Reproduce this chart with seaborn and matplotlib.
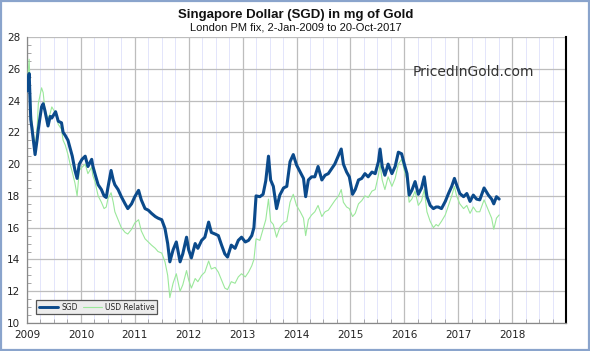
import matplotlib
matplotlib.use("Agg")
import matplotlib.pyplot as plt
import matplotlib.patches as mpatches
from matplotlib.lines import Line2D
from matplotlib.ticker import MultipleLocator
import numpy as np
import pandas as pd
import seaborn as sns

# decimal years of readings
dates = [2009.00, 2009.04, 2009.07, 2009.09, 2009.15, 2009.19, 2009.21, 2009.27, 2009.30, 2009.33,
         2009.39, 2009.43, 2009.46, 2009.53, 2009.58, 2009.64, 2009.67, 2009.71, 2009.76, 2009.80,
         2009.84, 2009.89, 2009.93, 2009.97, 2010.02, 2010.08, 2010.13, 2010.20, 2010.22, 2010.26,
         2010.32, 2010.38, 2010.43, 2010.47, 2010.50, 2010.56, 2010.60, 2010.63, 2010.69, 2010.75,
         2010.82, 2010.87, 2010.94, 2011.00, 2011.07, 2011.12, 2011.19, 2011.25, 2011.31, 2011.38,
         2011.43, 2011.50, 2011.56, 2011.61, 2011.65, 2011.71, 2011.77, 2011.84, 2011.89, 2011.96,
         2012.00, 2012.05, 2012.12, 2012.17, 2012.24, 2012.30, 2012.37, 2012.42, 2012.49, 2012.55,
         2012.61, 2012.67, 2012.72, 2012.79, 2012.86, 2012.92, 2012.98, 2013.05, 2013.11, 2013.17,
         2013.21, 2013.25, 2013.32, 2013.38, 2013.43, 2013.48, 2013.52, 2013.57, 2013.63, 2013.69,
         2013.76, 2013.82, 2013.88, 2013.94, 2014.00, 2014.07, 2014.13, 2014.17, 2014.22, 2014.28,
         2014.34, 2014.40, 2014.47, 2014.53, 2014.59, 2014.65, 2014.71, 2014.78, 2014.83, 2014.87,
         2014.93, 2014.98, 2015.04, 2015.09, 2015.15, 2015.21, 2015.27, 2015.33, 2015.40, 2015.46,
         2015.52, 2015.55, 2015.59, 2015.64, 2015.70, 2015.77, 2015.83, 2015.89, 2015.95, 2016.00,
         2016.05, 2016.09, 2016.14, 2016.20, 2016.26, 2016.32, 2016.37, 2016.42, 2016.48, 2016.54,
         2016.59, 2016.63, 2016.69, 2016.76, 2016.82, 2016.88, 2016.93, 2016.97, 2017.03, 2017.10,
         2017.16, 2017.22, 2017.28, 2017.34, 2017.40, 2017.48, 2017.56, 2017.62, 2017.66, 2017.71,
         2017.76]

sgd = [24.6, 25.7, 22.8, 22.3, 20.6, 21.6, 22.2, 23.6, 23.8, 23.4,
       22.4, 23.0, 22.9, 23.3, 22.7, 22.6, 22.0, 21.8, 21.5, 21.0,
       20.5, 19.6, 19.1, 20.0, 20.3, 20.5, 19.85, 20.3, 19.9, 19.4,
       18.7, 18.4, 18.0, 17.9, 18.5, 19.6, 19.0, 18.7, 18.4, 17.95,
       17.5, 17.2, 17.5, 17.95, 18.35, 17.75, 17.2, 17.1, 16.9, 16.7,
       16.6, 16.5, 15.95, 15.0, 13.85, 14.6, 15.1, 13.85, 14.35, 15.4,
       14.6, 14.1, 15.0, 14.7, 15.2, 15.4, 16.35, 15.7, 15.6, 15.5,
       14.9, 14.35, 14.15, 14.9, 14.7, 15.2, 15.4, 15.1, 15.2, 15.5,
       16.0, 18.0, 17.95, 18.1, 18.95, 20.5, 19.0, 18.6, 17.2, 18.05,
       18.5, 18.6, 20.15, 20.6, 19.95, 19.5, 19.1, 17.95, 19.0, 19.2,
       19.2, 19.85, 19.0, 19.3, 19.4, 19.7, 20.0, 20.55, 20.95, 20.0,
       19.5, 19.2, 18.1, 18.4, 19.0, 19.1, 19.4, 19.2, 19.5, 19.4,
       20.15, 20.95, 19.85, 19.3, 20.0, 19.4, 19.85, 20.75, 20.65, 20.0,
       19.4, 18.05, 18.35, 18.9, 18.1, 18.5, 19.2, 17.95, 17.4, 17.2,
       17.3, 17.3, 17.2, 17.65, 18.15, 18.6, 19.1, 18.7, 18.15, 17.95,
       18.15, 17.65, 18.05, 17.8, 17.75, 18.5, 18.05, 17.8, 17.5, 17.95,
       17.8]

usd_relative = [24.8, 26.6, 23.5, 22.8, 21.0, 22.4, 23.8, 24.8, 24.5, 23.5,
                22.8, 23.2, 23.6, 23.2, 22.5, 22.2, 21.5, 21.2, 20.6, 20.0,
                19.5, 18.8, 18.0, 19.6, 19.8, 20.0, 19.4, 19.8, 19.3, 18.9,
                18.0, 17.6, 17.2, 17.3, 17.8, 18.2, 17.6, 17.0, 16.5, 16.0,
                15.7, 15.6, 15.9, 16.3, 16.5, 15.8, 15.3, 15.1, 14.9, 14.7,
                14.5, 14.4, 13.85, 13.0, 11.6, 12.5, 13.1, 12.0, 12.4, 13.3,
                12.7, 12.2, 12.8, 12.6, 13.0, 13.2, 13.9, 13.4, 13.5, 13.2,
                12.7, 12.2, 12.1, 12.6, 12.5, 12.9, 13.1, 12.9, 13.2, 13.6,
                14.0, 15.3, 15.2, 15.9, 16.5, 17.8, 16.4, 16.2, 15.4, 16.0,
                16.3, 16.4, 17.6, 18.1, 17.4, 17.0, 16.6, 15.5, 16.5, 16.8,
                17.0, 17.4, 16.7, 17.0, 17.1, 17.4, 17.7, 18.0, 18.4, 17.6,
                17.3, 17.2, 16.7, 16.9, 17.5, 17.7, 18.0, 17.9, 18.3, 18.4,
                19.3, 20.0, 19.0, 18.4, 19.2, 18.6, 19.1, 20.0, 20.3, 19.6,
                19.0, 17.6, 17.8, 18.3, 17.4, 17.7, 18.4, 17.0, 16.4, 16.0,
                16.2, 16.1, 16.4, 16.8, 17.4, 18.0, 18.6, 18.0, 17.5, 17.2,
                17.4, 16.9, 17.3, 17.0, 17.0, 17.75, 17.1, 16.6, 15.9, 16.6,
                16.8]

year_ticks = [2009, 2010, 2011, 2012, 2013, 2014, 2015, 2016, 2017, 2018]
y_ticks = [10, 12, 14, 16, 18, 20, 22, 24, 26, 28]

title = "Singapore Dollar (SGD) in mg of Gold"
subtitle = "London PM fix, 2-Jan-2009 to 20-Oct-2017"

sns.set_style("white")
plt.rcParams['font.family'] = ['DejaVu Sans']

df = pd.DataFrame({"date": dates, "SGD": sgd, "USD Relative": usd_relative})

fig = plt.figure(figsize=(5.9, 3.51), dpi=100)
ax = fig.add_axes([27/590, 1-323/351, (566-27)/590, (323-37)/351])

blue = "#0b4a8b"
green = "#9be89b"

sns.lineplot(data=df, x="date", y="USD Relative", ax=ax, color=green, lw=0.8, zorder=3)
sns.lineplot(data=df, x="date", y="SGD", ax=ax, color=blue, lw=2.2, zorder=4)

ax.set_xlim(2009, 2019)
ax.set_ylim(10, 28)
ax.set_xticks(year_ticks)
ax.set_xticklabels([str(y) for y in year_ticks])
ax.set_yticks(y_ticks)
ax.set_yticklabels([str(y) for y in y_ticks])
ax.xaxis.set_minor_locator(MultipleLocator(0.25))
ax.yaxis.set_minor_locator(MultipleLocator(0.5))
ax.set_xlabel("")
ax.set_ylabel("")

ax.grid(which="minor", axis="x", color="#e3e5fb", lw=0.7, zorder=0)
ax.grid(which="major", axis="both", color="#bdbdbd", lw=0.9, zorder=1)
ax.set_axisbelow(True)

ax.tick_params(axis="both", which="major", labelsize=7.5, colors="#222222",
               length=3, width=0.8, color="#888888", direction="out", pad=2)
ax.tick_params(axis="both", which="minor", length=3, width=0.6,
               color="#999999", direction="in")
ax.tick_params(axis="y", which="minor", left=True)
ax.tick_params(axis="x", which="minor", bottom=True)

for s in ["left", "bottom"]:
    ax.spines[s].set_color("#888888")
    ax.spines[s].set_linewidth(0.9)
ax.spines["top"].set_visible(False)
ax.spines["right"].set_color("black")
ax.spines["right"].set_linewidth(1.5)

handles = [Line2D([0], [0], color=blue, lw=2.1), Line2D([0], [0], color=green, lw=0.8)]
leg = ax.legend(handles, ["SGD", "USD Relative"], loc="lower left", ncol=2,
                fontsize=5.5, frameon=True, fancybox=False, handlelength=2.6,
                columnspacing=0.6, handletextpad=0.4, borderpad=0.3,
                bbox_to_anchor=(0.01, 0.018))
leg.get_frame().set_facecolor("#ececec")
leg.get_frame().set_edgecolor("#555555")
leg.get_frame().set_linewidth(0.9)
leg.get_frame().set_alpha(1)

fig.text(296/590, 1-15/351, title, ha="center", va="center", fontsize=9.5,
         fontweight="bold", color="#111111", family="Liberation Sans")
fig.text(296/590, 1-28/351, subtitle, ha="center", va="center", fontsize=8,
         color="#111111", family="Liberation Sans")
fig.text(473/590, 1-72/351, "PricedInGold.com", ha="center", va="center",
         fontsize=10, color="#333333")

fig.patches.append(mpatches.Rectangle((0.002, 0.003), 0.996, 0.994, transform=fig.transFigure,
                                      fill=False, edgecolor="#8aa4cc", lw=1.6))

fig.savefig("out.png", dpi=100)
